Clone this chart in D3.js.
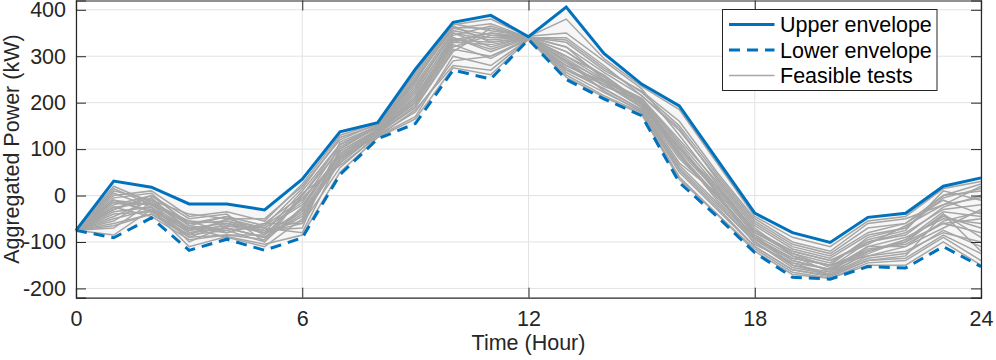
<!DOCTYPE html>
<html>
<head>
<meta charset="utf-8">
<script src="https://cdn.jsdelivr.net/npm/d3@7"></script>
<style>
  body { margin: 0; background: #fff; }
  svg { display: block; font-family: "Liberation Sans", Arial, sans-serif; }
</style>
</head>
<body>
<div id="chart"></div>
<script>
// hours 0..24
let hours = d3.range(0, 25);

let upperEnvelope = [-75, 31, 18, -18, -18, -31, 35, 137, 157, 272, 373, 388, 342, 406, 306, 240, 193, 78, -38, -80, -101, -47, -38, 20, 38];
let lowerEnvelope = [-75, -91, -48, -118, -94, -118, -91, 45, 122, 155, 270, 251, 336, 250, 208, 172, 28, -45, -123, -176, -180, -153, -156, -110, -153];

// feasible tests (grey)
let feasibleTests = [
  [-75, -10, -20, -60, -55, -70, -20, 90, 140, 200, 330, 350, 340, 300, 260, 200, 100, 20, -80, -120, -140, -100, -80, -30, -20],
  [-75, -30, -5, -80, -70, -90, -40, 70, 135, 190, 310, 360, 338, 280, 240, 190, 80, 0, -90, -140, -160, -120, -100, -60, -80],
  [-75, 5, -25, -90, -60, -80, 10, 110, 145, 230, 350, 320, 342, 320, 250, 210, 120, 30, -70, -130, -150, -90, -70, 0, 10],
  [-75, -50, -30, -70, -80, -60, -60, 60, 130, 180, 290, 300, 336, 270, 230, 185, 60, -20, -100, -150, -170, -130, -120, -80, -100],
  [-75, -20, 0, -50, -40, -100, 0, 100, 150, 250, 360, 370, 340, 340, 280, 215, 140, 40, -60, -110, -130, -80, -60, -10, -40],
  [-75, -70, -15, -100, -65, -70, -80, 80, 128, 170, 300, 280, 337, 290, 225, 180, 50, -30, -110, -160, -175, -140, -130, -40, -120],
  [-75, 10, -10, -40, -50, -50, 20, 120, 155, 260, 365, 330, 341, 330, 270, 225, 160, 50, -50, -100, -120, -60, -50, -20, 20],
  [-75, -40, -35, -70, -90, -110, -50, 75, 138, 210, 340, 310, 339, 290, 235, 205, 110, 10, -85, -150, -165, -110, -90, -50, -60],
  [-75, -5, 5, -65, -45, -85, -30, 95, 142, 220, 345, 365, 340, 310, 255, 195, 90, -10, -95, -135, -150, -130, -110, -70, -30],
  [-75, -60, -40, -85, -75, -65, -10, 85, 132, 195, 320, 345, 338, 260, 215, 178, 40, -40, -115, -165, -178, -145, -140, -90, -140],
  [-75, 20, -15, -55, -60, -75, -70, 115, 150, 245, 370, 355, 343, 350, 290, 230, 130, 25, -75, -125, -145, -95, -75, 10, -10],
  [-75, -25, -45, -95, -85, -95, 5, 65, 127, 185, 280, 270, 337, 280, 245, 190, 70, 5, -105, -145, -170, -120, -100, -40, -90],
  [-75, -15, -20, -75, -55, -80, -60, 100, 148, 240, 355, 340, 341, 300, 250, 205, 100, 15, -80, -125, -155, -100, -85, -25, 0],
  [-75, -85, -30, -110, -88, -105, -85, 50, 125, 165, 275, 260, 336, 255, 212, 175, 35, -40, -120, -170, -178, -150, -150, -100, -150],
  [-75, 0, 10, -45, -35, -55, 25, 130, 156, 265, 368, 380, 342, 380, 295, 235, 185, 70, -45, -90, -110, -55, -45, 15, 30],
  [-75, -35, -25, -80, -70, -90, -45, 80, 137, 205, 330, 325, 339, 270, 240, 195, 85, -5, -90, -140, -160, -115, -105, -60, -50],
  [-75, -45, -10, -65, -75, -100, -25, 90, 140, 215, 335, 350, 340, 310, 258, 200, 95, 10, -85, -130, -165, -125, -95, -45, -70],
  [-75, -10, -35, -85, -50, -70, -15, 105, 146, 235, 350, 335, 342, 295, 245, 208, 115, 20, -75, -120, -140, -105, -65, -20, -5],
  [-75, -55, -5, -75, -65, -80, -35, 70, 133, 190, 315, 300, 338, 275, 230, 185, 65, -15, -100, -155, -170, -135, -125, -75, -110],
  [-75, 15, -20, -55, -80, -60, 0, 110, 150, 250, 360, 345, 341, 320, 265, 215, 145, 35, -65, -115, -135, -85, -70, -5, 15],
  [-75, -25, -15, -70, -60, -75, -55, 95, 143, 225, 340, 315, 340, 285, 240, 200, 105, 5, -95, -145, -158, -110, -110, -55, -35],
  [-75, -65, -40, -90, -85, -85, -5, 75, 135, 200, 325, 295, 338, 265, 222, 182, 55, -25, -110, -160, -172, -140, -135, -85, -125],
  [-75, -30, 0, -60, -45, -65, 15, 125, 152, 255, 362, 360, 341, 335, 275, 222, 150, 45, -55, -105, -125, -70, -60, 0, 25],
  [-75, -15, -30, -80, -70, -90, -35, 85, 139, 210, 335, 330, 340, 290, 248, 198, 90, 0, -90, -135, -150, -120, -95, -35, -45]
];

let xTicks = [0, 6, 12, 18, 24];
let yTicks = [-200, -100, 0, 100, 200, 300, 400];
let legendLabels = ["Upper envelope", "Lower envelope", "Feasible tests"];

let width = 996, height = 360;
let margin = {left: 76, right: 15, top: 0.5, bottom: 62.3};
let blue = "#0072BD", grey = "#a6a6a6", axisColor = "#262626";

let svg = d3.select("#chart").append("svg")
  .attr("width", width)
  .attr("height", height);

let x = d3.scaleLinear().domain([0, 24]).range([margin.left, width - margin.right]);
let y = d3.scaleLinear().domain([-220, 420]).range([height - margin.bottom, margin.top]);

let x0 = x.range()[0], x1 = x.range()[1], y0 = y.range()[0], y1 = y.range()[1];

// grid
let grid = svg.append("g");
grid.selectAll(".gx").data(xTicks).enter().append("line")
  .attr("x1", d => x(d)).attr("x2", d => x(d))
  .attr("y1", y0).attr("y2", y1)
  .attr("stroke", "#e3e3e3").attr("stroke-width", 1);
grid.selectAll(".gy").data(yTicks).enter().append("line")
  .attr("x1", x0).attr("x2", x1)
  .attr("y1", d => y(d)).attr("y2", d => y(d))
  .attr("stroke", "#e3e3e3").attr("stroke-width", 1);

// shaded band between envelopes
let band = d3.area()
  .x((d, i) => x(hours[i]))
  .y0((d, i) => y(lowerEnvelope[i]))
  .y1((d, i) => y(upperEnvelope[i]));
svg.append("path")
  .datum(upperEnvelope)
  .attr("d", band)
  .attr("fill", "#f6f6f6");

let line = d3.line().x((d, i) => x(hours[i])).y(d => y(d));

svg.append("g").selectAll("path")
  .data(feasibleTests)
  .enter()
  .append("path")
  .attr("d", line)
  .attr("fill", "none")
  .attr("stroke", grey)
  .attr("stroke-width", 1.5);

svg.append("path")
  .datum(lowerEnvelope)
  .attr("d", line)
  .attr("fill", "none")
  .attr("stroke", blue)
  .attr("stroke-width", 3)
  .attr("stroke-dasharray", "11,7");

svg.append("path")
  .datum(upperEnvelope)
  .attr("d", line)
  .attr("fill", "none")
  .attr("stroke", blue)
  .attr("stroke-width", 3);

// axes (ticks inward, box)
let tickLen = 10;
let fontSize = "21.5px";

let xAxis = svg.append("g")
  .attr("transform", `translate(0,${y0})`)
  .call(d3.axisBottom(x).tickValues(xTicks).tickSize(-tickLen).tickPadding(13).tickFormat(d3.format("d")));
let yAxis = svg.append("g")
  .attr("transform", `translate(${x0},0)`)
  .call(d3.axisLeft(y).tickValues(yTicks).tickSize(-tickLen).tickPadding(10).tickFormat(d3.format("d")));
let xTop = svg.append("g")
  .attr("transform", `translate(0,${y1})`)
  .call(d3.axisTop(x).tickValues(xTicks).tickSize(-tickLen).tickFormat(""));
let yRight = svg.append("g")
  .attr("transform", `translate(${x1},0)`)
  .call(d3.axisRight(y).tickValues(yTicks).tickSize(-tickLen).tickFormat(""));

[xAxis, yAxis, xTop, yRight].forEach(g => {
  g.select(".domain").attr("stroke", axisColor).attr("stroke-width", 1.2);
  g.selectAll(".tick line").attr("stroke", axisColor).attr("stroke-width", 1);
  g.selectAll(".tick text").attr("fill", axisColor).style("font-size", fontSize)
    .style("font-family", "'Liberation Sans', Arial, sans-serif");
});
yAxis.selectAll(".tick text").text(d => d < 0 ? "-" + Math.abs(d) : d);

// axis labels
svg.append("text")
  .attr("x", (x0 + x1) / 2)
  .attr("y", 350)
  .attr("text-anchor", "middle")
  .attr("fill", axisColor)
  .style("font-size", fontSize)
  .text("Time (Hour)");

svg.append("text")
  .attr("transform", `translate(18.5,${(y0 + y1) / 2}) rotate(-90)`)
  .attr("text-anchor", "middle")
  .attr("fill", axisColor)
  .style("font-size", fontSize)
  .text("Aggregated Power (kW)");

// legend
let legend = svg.append("g").attr("transform", "translate(722.5,9.5)");
legend.append("rect")
  .attr("width", 214.5).attr("height", 81)
  .attr("fill", "#fff")
  .attr("stroke", axisColor).attr("stroke-width", 1);

let legendStyles = [
  {stroke: blue, width: 3, dash: null},
  {stroke: blue, width: 3, dash: "11,7"},
  {stroke: grey, width: 1.5, dash: null}
];
let rows = legend.selectAll(".row").data(legendLabels).enter().append("g")
  .attr("transform", (d, i) => `translate(0,${15 + i * 25.5})`);
rows.append("line")
  .attr("x1", 6.5).attr("x2", 52)
  .attr("stroke", (d, i) => legendStyles[i].stroke)
  .attr("stroke-width", (d, i) => legendStyles[i].width)
  .attr("stroke-dasharray", (d, i) => legendStyles[i].dash);
rows.append("text")
  .attr("x", 57.5)
  .attr("dy", "0.35em")
  .attr("fill", "#000")
  .style("font-size", fontSize)
  .text(d => d);
</script>
</body>
</html>
